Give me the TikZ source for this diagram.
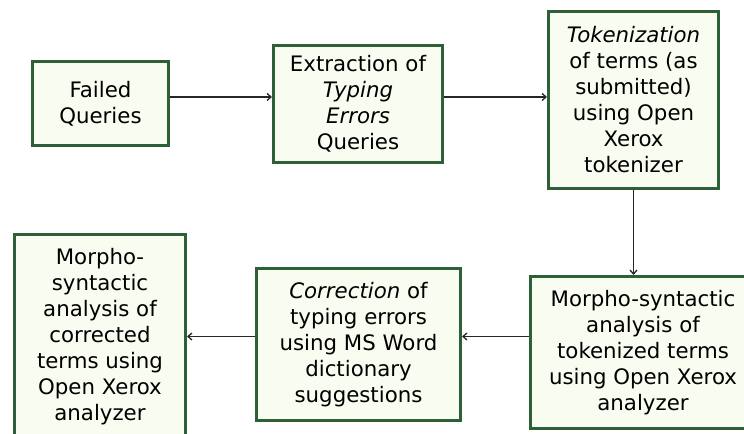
\documentclass[tikz,border=0pt]{standalone}
\usepackage{fontspec}
\setmainfont{DejaVu Sans}
\usepackage{tikz}
\usetikzlibrary{arrows.meta}
\definecolor{boxline}{RGB}{46,96,56}
\definecolor{boxfill}{RGB}{249,252,240}

\begin{document}
\begin{tikzpicture}[x=1bp,y=1bp,
  stage/.style={draw=boxline,line width=3bp,fill=boxfill,inner sep=0pt,align=center,
    font=\fontsize{21.3bp}{26bp}\selectfont},
  flow/.style={-{Straight Barb[length=4bp,width=7bp]},line width=1.3bp,black!85}]
\useasboundingbox (0,0) rectangle (744,434);
\clip (0,0) rectangle (744,434);

% Query processing steps
\node[stage,minimum width=136bp,minimum height=84bp] (failed) at (100.5,330) {Failed\\Queries};
\node[stage,minimum width=169bp,minimum height=117bp] (extract) at (358,330)
  {Extraction of\\\textit{Typing}\\\textit{Errors}\\Queries};
\node[stage,minimum width=170bp,minimum height=177bp] (token) at (633.5,334)
  {\textit{Tokenization}\\of terms (as\\submitted)\\using Open\\Xerox\\tokenizer};
\node[stage,minimum width=225bp,minimum height=152bp] (morph) at (643,81.5)
  {Morpho-syntactic\\analysis of\\tokenized terms\\using Open Xerox\\analyzer};
\node[stage,minimum width=204bp,minimum height=152bp] (correct) at (358.5,89.5)
  {\textit{Correction} of\\typing errors\\using MS Word\\dictionary\\suggestions};
\node[stage,minimum width=171bp,minimum height=204bp] (remorph) at (100,97.5)
  {Morpho-\\syntactic\\analysis of\\corrected\\terms using\\Open Xerox\\analyzer};

\draw[flow] ([yshift=7bp]failed.east) -- ([yshift=7bp]failed.east -| extract.west);
\draw[flow] ([yshift=7bp]extract.east) -- ([yshift=7bp]extract.east -| token.west);
\draw[flow] (token.south) -- (token.south |- morph.north);
\draw[flow] (morph.west |- remorph.east) -- (correct.east |- remorph.east);
\draw[flow] (correct.west |- remorph.east) -- (remorph.east);

\end{tikzpicture}
\end{document}
